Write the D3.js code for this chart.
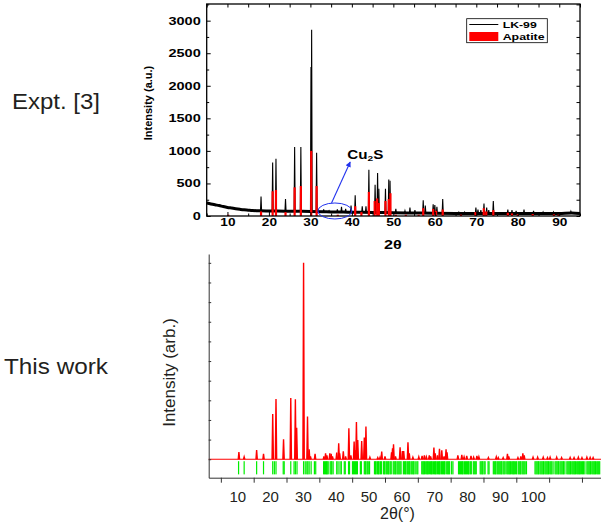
<!DOCTYPE html>
<html>
<head>
<meta charset="utf-8">
<script src="https://cdn.jsdelivr.net/npm/d3@7"></script>
<style>
  body { margin: 0; background: #fff; }
  svg { display: block; }
  text { font-family: Arial, "Liberation Sans", sans-serif; }
</style>
</head>
<body>
<svg id="chart" width="601" height="528"></svg>
<script>
// ---------------------------------------------------------------------------
// Data
// ---------------------------------------------------------------------------

// Top panel (experiment): smooth background of the LK-99 trace [2θ, counts]
const lk99Background = [
  [5, 200], [6, 185], [7, 172], [8, 160], [9, 145], [10, 132], [11, 122], [12, 112],
  [13, 103], [14, 95], [15, 90], [16, 85], [17, 82], [18, 80], [20, 78], [22, 76],
  [25, 74], [28, 72], [30, 70], [33, 66], [35, 62], [38, 60], [40, 58], [45, 55],
  [50, 50], [55, 46], [60, 42], [65, 40], [70, 40], [75, 40], [80, 40], [85, 38],
  [90, 40], [93, 48], [95, 40]
];

// LK-99 peaks [2θ, peak counts, local background]
const lk99Peaks = [
  [18.1, 300, 80], [20.9, 820, 78], [21.7, 880, 77], [24.0, 260, 75], [26.2, 1060, 74],
  [27.7, 1060, 72], [30.15, 2290, 70], [30.3, 2860, 70], [31.5, 970, 68], [33.2, 100, 66],
  [34.5, 80, 64], [36.5, 100, 62], [37.5, 140, 60], [38.5, 110, 60], [39.8, 160, 58],
  [40.8, 320, 58], [42.5, 150, 57], [43.4, 150, 56], [44.1, 710, 56], [45.6, 480, 55],
  [46.2, 660, 55], [46.5, 420, 55], [48.1, 420, 52], [48.9, 560, 52], [49.2, 540, 50],
  [50.6, 110, 50], [52.8, 80, 48], [54.0, 130, 47], [55.2, 90, 46], [57.2, 240, 45],
  [57.7, 160, 45], [59.6, 180, 43], [60.0, 170, 42], [60.5, 140, 42], [61.9, 260, 41],
  [65.8, 60, 40], [67.2, 60, 40], [69.9, 130, 40], [70.4, 100, 40], [71.1, 90, 40],
  [71.85, 190, 40], [72.5, 130, 40], [73.0, 90, 40], [74.1, 230, 40], [77.6, 100, 40],
  [78.6, 90, 40], [79.6, 80, 40], [81.5, 100, 40], [83.8, 80, 38], [86.1, 60, 38],
  [88.6, 60, 38], [92.8, 70, 42]
];

// Apatite reference bars [2θ, counts]
const apatiteBars = [
  [10.2, 20], [18.1, 70], [20.9, 380], [21.7, 400], [24.0, 60], [26.2, 440], [27.7, 460],
  [30.2, 1000], [31.5, 460], [36.6, 20], [40.8, 150], [42.3, 60], [44.1, 370], [45.5, 230],
  [46.1, 270], [46.5, 200], [48.1, 230], [48.9, 260], [49.3, 350], [50.6, 20], [53.0, 20],
  [56.1, 20], [57.2, 120], [59.6, 110], [60.3, 80], [61.9, 100], [66.3, 20], [69.8, 60],
  [71.8, 120], [72.4, 70], [74.1, 90], [77.6, 50], [78.6, 40], [80.0, 30], [83.6, 30],
  [88.7, 25], [89.8, 20]
];

const topXTicks = [10, 20, 30, 40, 50, 60, 70, 80, 90];
const topXMinor = [5, 15, 25, 35, 45, 55, 65, 75, 85, 95];
const topYTicks = [0, 500, 1000, 1500, 2000, 2500, 3000];
const topYMinor = [250, 750, 1250, 1750, 2250, 2750, 3250];

// Bottom panel (this work): simulated pattern peaks [2θ, relative intensity]
const simPeaks = [
  [10.5, 0.36], [12.1, 0.12], [15.9, 0.47], [18.0, 0.27], [20.8, 2.3], [21.8, 3.07],
  [24.1, 1.02], [26.3, 3.12], [27.7, 3.05], [28.1, 1.6], [30.2, 10], [31.4, 2.17],
  [31.9, 0.5], [32.3, 0.15], [33.7, 0.27], [36.4, 0.15], [36.9, 0.3], [37.3, 0.2],
  [38.2, 0.3], [38.6, 0.28], [39.0, 0.15], [40.3, 0.34], [40.9, 0.81], [41.2, 0.3],
  [42.3, 0.41], [43.0, 0.15], [44.0, 1.58], [44.6, 0.2], [45.6, 0.9], [45.9, 0.47],
  [46.3, 1.9], [46.7, 0.98], [47.9, 0.93], [48.7, 1.1], [49.2, 1.66], [50.4, 0.1],
  [52.8, 0.08], [53.5, 0.1], [54.0, 0.39], [55.0, 0.14], [57.0, 0.35], [57.3, 0.56],
  [57.6, 0.76], [58.2, 0.15], [59.6, 0.61], [60.3, 0.42], [60.7, 0.42], [62.0, 0.86],
  [62.4, 0.3], [63.5, 0.1], [65.3, 0.12], [66.3, 0.17], [67.0, 0.2], [67.6, 0.12],
  [68.5, 0.2], [68.9, 0.15], [69.9, 0.59], [70.3, 0.3], [71.0, 0.2], [71.6, 0.53],
  [72.3, 0.45], [73.0, 0.15], [73.6, 0.5], [73.9, 0.35], [77.2, 0.2], [78.4, 0.22],
  [79.1, 0.12], [79.9, 0.17], [81.2, 0.17], [82.0, 0.1], [83.0, 0.17], [83.6, 0.12],
  [86.5, 0.08], [88.9, 0.12], [89.5, 0.08], [91.0, 0.08], [92.3, 0.27], [92.7, 0.15],
  [95.5, 0.08], [96.4, 0.15], [97.0, 0.3], [97.4, 0.2], [100.1, 0.1], [101.5, 0.1],
  [103.2, 0.1], [104.5, 0.08], [105.3, 0.1], [107.3, 0.1], [108.8, 0.08], [111.4, 0.09],
  [112.6, 0.08], [113.9, 0.1], [115.0, 0.08], [116.5, 0.1], [117.5, 0.09], [118.4, 0.08]
];

// Bottom panel: reflection positions (green markers) [2θ]
const reflections = [
  10.4, 12.1, 15.9, 18.0, 20.8, 21.3, 21.8, 24.0, 24.3, 26.3, 27.3, 27.7, 28.2, 30.2, 30.7,
  31.2, 31.5, 31.9, 32.5, 33.5, 33.9,
  36.3, 36.6, 36.9, 37.2, 37.4, 37.7, 38.3, 38.6, 38.8, 39.2, 40.3, 40.7, 41.3, 41.7,
  42.6, 42.9, 43.9, 44.2, 45.1, 45.4, 45.7, 46.0, 46.3, 46.6, 47.5, 47.8,
  48.7, 49.0, 49.2, 49.6, 49.9, 50.3,
  51.8, 52.1, 52.3, 52.7, 53.0, 53.2, 53.6, 53.9, 54.5, 54.8, 55.0, 55.4, 55.7, 56.0,
  56.2, 56.6, 56.9, 57.5, 57.8, 58.1, 58.3, 58.7, 59.0, 59.3, 59.6, 59.9,
  60.6, 60.9, 61.2, 61.4, 61.8, 62.1, 62.4, 62.6, 63.0, 63.3, 63.6, 63.8, 64.2, 64.7, 65.0,
  66.2, 66.5, 66.8, 67.0, 67.4, 67.7, 68.0, 68.2, 68.6, 68.9, 69.2, 69.4, 69.8, 70.1,
  70.4, 70.6, 71.0, 71.3, 71.6, 71.8, 72.2, 72.5, 72.8, 73.1, 73.3,
  73.8, 74.1, 74.4, 74.7, 75.3, 75.7,
  77.4, 77.7, 78.0, 78.3, 78.6, 78.8, 79.2, 79.5, 79.8, 80.1, 80.4, 80.6, 81.0, 81.3,
  81.9, 82.2, 82.5, 82.8, 84.0, 84.3, 84.6, 84.8, 85.2, 85.5, 86.4, 86.7,
  88.0, 88.3, 88.6, 88.8, 89.2, 89.5, 89.8, 90.1, 90.4, 90.6, 91.0, 91.3, 91.6,
  92.1, 92.4, 92.7, 93.0, 93.2, 93.6, 93.9, 94.2, 94.4, 94.8, 95.1,
  95.6, 95.9, 96.2, 96.4, 96.8, 97.1, 97.4, 97.7, 98.1,
  100.7, 101.0, 101.3, 101.6, 101.8, 102.2, 102.5, 102.8, 103.1, 103.3, 103.7, 104.0,
  104.3, 104.6, 104.8, 105.2, 105.5, 105.8, 106.2,
  106.8, 107.1, 107.4, 107.7, 107.9, 108.3, 108.6, 108.9, 109.2, 109.4, 109.8,
  110.4, 110.7, 111.0, 111.3, 111.5, 111.9, 112.2, 112.5, 112.8, 113.0, 113.4, 113.7,
  114.0, 114.3, 114.5, 114.9, 115.2, 115.5, 115.9,
  116.5, 116.8, 117.1, 117.4, 117.6, 118.0, 118.3, 118.6, 118.9, 119.1, 119.5, 119.8,
  120.1, 120.4
];

const bottomXLabels = [10, 20, 30, 40, 50, 60, 70, 80, 90, 100];
const bottomXTicks = [5, 15, 25, 35, 45, 55, 65, 75, 85, 95, 105, 115];
const bottomYTicks = [0, 1, 2, 3, 4, 5, 6, 7, 8, 9, 10];

// ---------------------------------------------------------------------------
// Helpers
// ---------------------------------------------------------------------------
const svg = d3.select("#chart");

// the experimental panel is a horizontally stretched image: widen its glyphs
function stretch(sel, k) {
  sel.each(function () {
    const w = this.getComputedTextLength();
    d3.select(this).attr("textLength", w * k).attr("lengthAdjust", "spacingAndGlyphs");
  });
}

function spikes(peaks, halfWidth) {
  // each peak as a narrow triangle standing on its base level
  return peaks.map((p) => [[p[0] - halfWidth, p[2] || 0], [p[0], p[1]], [p[0] + halfWidth, p[2] || 0]]);
}

// ---------------------------------------------------------------------------
// Top panel — Expt. [3]
// ---------------------------------------------------------------------------
const xT = d3.scaleLinear().domain([5, 95]).range([206.7, 580]);
const yT = d3.scaleLinear().domain([0, 3256]).range([216, 4]);
const topG = svg.append("g");

const lineT = d3.line().x((d) => xT(d[0])).y((d) => yT(d[1]));

// thick noisy background band
topG.append("path").datum(lk99Background)
  .attr("d", lineT.curve(d3.curveMonotoneX))
  .attr("fill", "none").attr("stroke", "#000").attr("stroke-width", 3);

lineT.curve(d3.curveLinear);
topG.append("g").selectAll("path").data(spikes(lk99Peaks, 0.13)).join("path")
  .attr("d", lineT)
  .attr("fill", "none").attr("stroke", "#000").attr("stroke-width", 1.1);

// apatite bars
topG.append("g").selectAll("rect").data(apatiteBars).join("rect")
  .attr("x", (d) => xT(d[0]) - 1.1).attr("width", 2.2)
  .attr("y", (d) => yT(d[1])).attr("height", (d) => yT(0) - yT(d[1]))
  .attr("fill", "#ff0000");

// axes (ticks inward on all four sides)
function styleTop(g) {
  g.select(".domain").remove();
  g.selectAll("line").attr("stroke", "#000").attr("stroke-width", 1);
  g.selectAll("text").attr("font-size", 10.5).attr("font-weight", "bold").attr("fill", "#000");
}

topG.append("g").attr("transform", "translate(0,216)")
  .call(d3.axisBottom(xT).tickValues(topXTicks).tickSize(-4).tickPadding(2.5).tickFormat(d3.format("d")))
  .call(styleTop).call((g) => stretch(g.selectAll("text"), 1.3));
topG.append("g").attr("transform", "translate(0,216)")
  .call(d3.axisBottom(xT).tickValues(topXMinor).tickSize(-2.5).tickFormat(""))
  .call(styleTop);
topG.append("g").attr("transform", "translate(0,4)")
  .call(d3.axisTop(xT).tickValues(topXTicks.concat(topXMinor)).tickSize(-3.5).tickFormat(""))
  .call(styleTop);

topG.append("g").attr("transform", "translate(206.7,0)")
  .call(d3.axisLeft(yT).tickValues(topYTicks).tickSize(-4).tickPadding(6).tickFormat(d3.format("d")))
  .call(styleTop).call((g) => stretch(g.selectAll("text"), 1.38));
topG.append("g").attr("transform", "translate(206.7,0)")
  .call(d3.axisLeft(yT).tickValues(topYMinor).tickSize(-2.5).tickFormat(""))
  .call(styleTop);
topG.append("g").attr("transform", "translate(580,0)")
  .call(d3.axisRight(yT).tickValues(topYTicks.concat(topYMinor)).tickSize(-3.5).tickFormat(""))
  .call(styleTop);

topG.append("rect")
  .attr("x", 206.7).attr("y", 4).attr("width", 373.3).attr("height", 212)
  .attr("fill", "none").attr("stroke", "#000").attr("stroke-width", 1.3);

topG.append("text")
  .attr("transform", "translate(152,103) rotate(-90)")
  .attr("text-anchor", "middle").attr("font-size", 11).attr("font-weight", "bold")
  .text("Intensity (a.u.)");

topG.append("text")
  .attr("x", 393).attr("y", 249).attr("text-anchor", "middle")
  .attr("font-size", 12).attr("font-weight", "bold")
  .text("2θ")
  .call((t) => stretch(t, 1.35));

// Cu2S annotation
topG.append("ellipse")
  .attr("cx", xT(35.9)).attr("cy", yT(77)).attr("rx", 17).attr("ry", 8)
  .attr("fill", "none").attr("stroke", "#2233ee").attr("stroke-width", 1);

svg.append("defs").append("marker")
  .attr("id", "arrow").attr("viewBox", "0 -5 10 10")
  .attr("refX", 9).attr("refY", 0)
  .attr("markerWidth", 5).attr("markerHeight", 5).attr("orient", "auto")
  .append("path").attr("d", "M0,-5L10,0L0,5Z").attr("fill", "#2233ee");

topG.append("line")
  .attr("x1", xT(35.1)).attr("y1", yT(200)).attr("x2", xT(39.6)).attr("y2", yT(830))
  .attr("stroke", "#2233ee").attr("stroke-width", 1.1).attr("marker-end", "url(#arrow)");

const cu = topG.append("text")
  .attr("x", xT(38.9)).attr("y", yT(877))
  .attr("font-size", 12).attr("font-weight", "bold");
cu.append("tspan").text("Cu");
cu.append("tspan").attr("font-size", 8).attr("dy", 2.5).text("2");
cu.append("tspan").attr("dy", -2.5).text("S");
cu.attr("textLength", 36).attr("lengthAdjust", "spacingAndGlyphs");

// legend
const leg = topG.append("g");
leg.append("rect").attr("x", 466.7).attr("y", 18.7).attr("width", 80.6).attr("height", 24)
  .attr("fill", "#fff").attr("stroke", "#000").attr("stroke-width", 0.8);
leg.append("line").attr("x1", 469.3).attr("x2", 498.3).attr("y1", 24.5).attr("y2", 24.5)
  .attr("stroke", "#000").attr("stroke-width", 1);
leg.append("rect").attr("x", 469.3).attr("y", 32).attr("width", 29).attr("height", 9)
  .attr("fill", "#ff0000");
leg.append("text").attr("x", 502.7).attr("y", 28).attr("font-size", 9.5).attr("font-weight", "bold")
  .text("LK-99").call((t) => stretch(t, 1.29));
leg.append("text").attr("x", 502.7).attr("y", 39.5).attr("font-size", 9.5).attr("font-weight", "bold")
  .text("Apatite").call((t) => stretch(t, 1.3));

// ---------------------------------------------------------------------------
// Bottom panel — This work
// ---------------------------------------------------------------------------
const xB = d3.scaleLinear().domain([1.3, 120.8]).range([208.7, 601]);
const yB = d3.scaleLinear().domain([-0.94, 10.45]).range([477.7, 254]);
const botG = svg.append("g");

// reflection markers
botG.append("g").selectAll("rect").data(reflections).join("rect")
  .attr("x", (d) => xB(d) - 0.6).attr("width", 1.2)
  .attr("y", yB(-0.1)).attr("height", yB(-0.77) - yB(-0.1))
  .attr("fill", "#00ee00");

// baseline + simulated pattern
botG.append("line")
  .attr("x1", xB(1.3)).attr("x2", xB(120.8)).attr("y1", yB(0)).attr("y2", yB(0))
  .attr("stroke", "#ff0000").attr("stroke-width", 1.2);

const lineB = d3.line().x((d) => xB(d[0])).y((d) => yB(d[1]));
botG.append("g").selectAll("path").data(spikes(simPeaks, 0.2)).join("path")
  .attr("d", lineB)
  .attr("fill", "#ff0000").attr("stroke", "#ff0000").attr("stroke-width", 1.4);

// axes
botG.append("g").attr("transform", "translate(208.7,0)")
  .call(d3.axisLeft(yB).tickValues(bottomYTicks).tickSize(-2.5).tickSizeOuter(0).tickFormat(""))
  .call((g) => g.selectAll("path,line").attr("stroke", "#333"));

botG.append("g").attr("transform", "translate(0,477.7)")
  .call(d3.axisBottom(xB).tickValues(bottomXTicks).tickSize(5).tickSizeOuter(0).tickFormat(""))
  .call((g) => g.selectAll("path,line").attr("stroke", "#333"));

botG.append("g").attr("transform", "translate(0,477.7)")
  .call(d3.axisBottom(xB).tickValues(bottomXLabels).tickSize(0).tickPadding(13.3).tickFormat(d3.format("d")))
  .call((g) => {
    g.select(".domain").remove();
    g.selectAll("text").attr("font-size", 15).attr("fill", "#231f20");
  });

botG.append("text")
  .attr("x", 397.5).attr("y", 519).attr("text-anchor", "middle")
  .attr("font-size", 16).attr("fill", "#231f20")
  .text("2θ(°)");

botG.append("text")
  .attr("transform", "translate(175,372.5) rotate(-90)")
  .attr("text-anchor", "middle").attr("font-size", 17).attr("fill", "#231f20")
  .text("Intensity (arb.)");

// ---------------------------------------------------------------------------
// Row captions
// ---------------------------------------------------------------------------
svg.append("text").attr("x", 12).attr("y", 109)
  .attr("font-size", 22).attr("fill", "#231f20")
  .text("Expt. [3]").attr("textLength", 88).attr("lengthAdjust", "spacingAndGlyphs");

svg.append("text").attr("x", 4).attr("y", 374)
  .attr("font-size", 22).attr("fill", "#231f20")
  .text("This work").attr("textLength", 104).attr("lengthAdjust", "spacingAndGlyphs");
</script>
</body>
</html>
